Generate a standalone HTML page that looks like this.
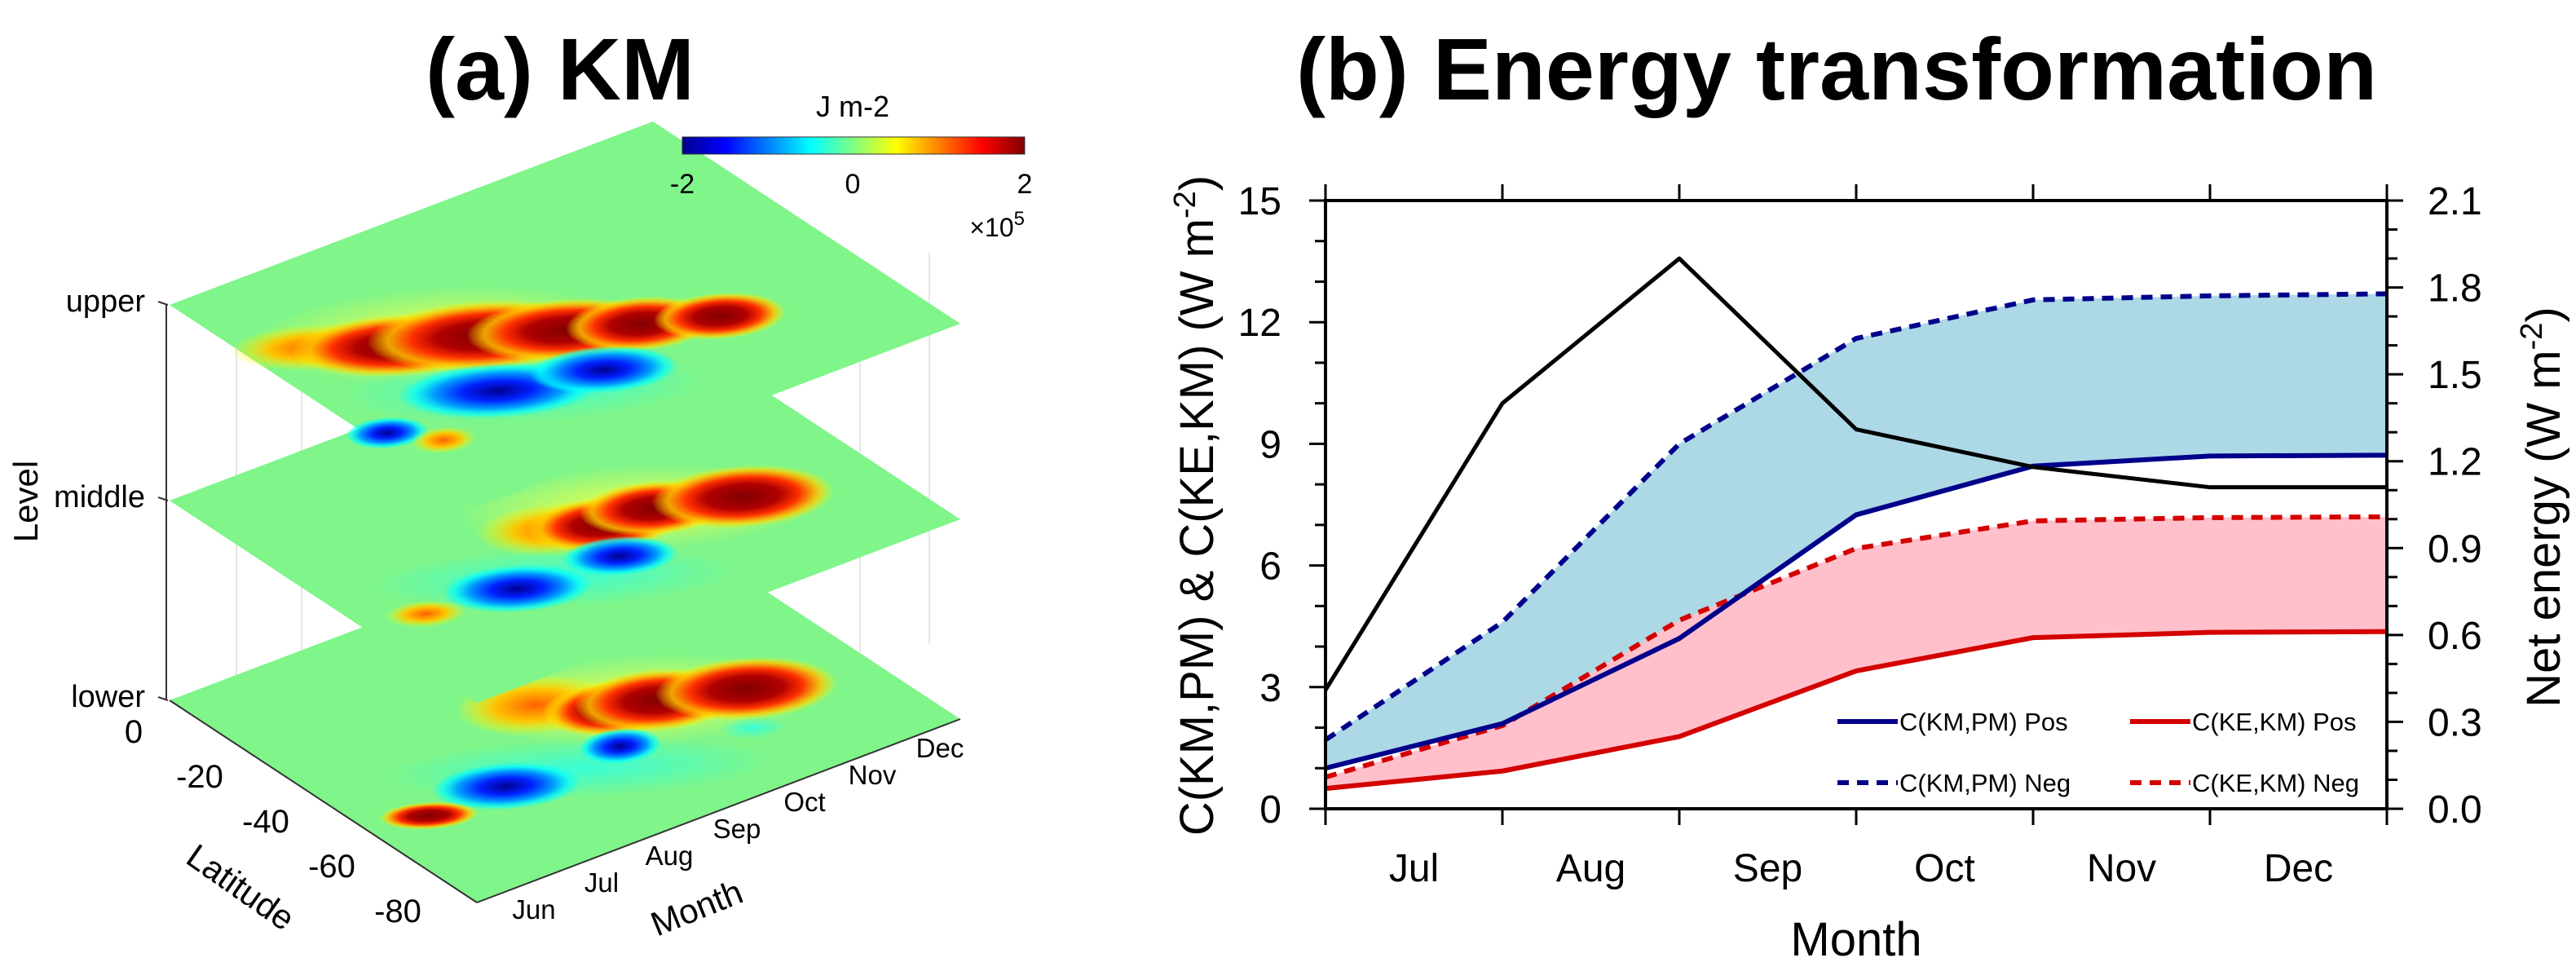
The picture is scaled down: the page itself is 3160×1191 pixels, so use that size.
<!DOCTYPE html>
<html><head><meta charset="utf-8"><style>
html,body{margin:0;padding:0;background:#fff;}
svg{display:block;font-family:"Liberation Sans",Arial,sans-serif;}
</style></head><body>
<svg id="root" width="3160" height="1191" viewBox="0 0 3160 1191" xmlns="http://www.w3.org/2000/svg">
<defs>
<linearGradient id="jet" x1="0" x2="1" y1="0" y2="0">
<stop offset="0" stop-color="#00008f"/><stop offset="0.125" stop-color="#0000ff"/><stop offset="0.375" stop-color="#00ffff"/><stop offset="0.5" stop-color="#80ff80"/><stop offset="0.625" stop-color="#ffff00"/><stop offset="0.875" stop-color="#ff0000"/><stop offset="1" stop-color="#800000"/>
</linearGradient>
<radialGradient id="gRed"><stop offset="0" stop-color="#800000"/><stop offset="0.4" stop-color="#b00000"/><stop offset="0.62" stop-color="#ff3000"/><stop offset="0.82" stop-color="#ffc000" stop-opacity="0.85"/><stop offset="1" stop-color="#ffff00" stop-opacity="0"/></radialGradient>
<radialGradient id="gBlue"><stop offset="0" stop-color="#000090"/><stop offset="0.35" stop-color="#0020ff"/><stop offset="0.65" stop-color="#00a0ff"/><stop offset="0.85" stop-color="#00ffff" stop-opacity="0.7"/><stop offset="1" stop-color="#00ffff" stop-opacity="0"/></radialGradient>
<radialGradient id="gYel"><stop offset="0" stop-color="#ff6000"/><stop offset="0.5" stop-color="#ffc000"/><stop offset="1" stop-color="#ffff00" stop-opacity="0"/></radialGradient>
<radialGradient id="gHaloY"><stop offset="0" stop-color="#ffff40" stop-opacity="0.9"/><stop offset="1" stop-color="#ffff40" stop-opacity="0"/></radialGradient>
<radialGradient id="gHaloC"><stop offset="0" stop-color="#30ffe0" stop-opacity="0.9"/><stop offset="1" stop-color="#30ffe0" stop-opacity="0"/></radialGradient>
</defs>
<text x="687" y="122" text-anchor="middle" font-size="108" font-weight="bold">(a) KM</text>
<text x="2253" y="122" text-anchor="middle" font-size="108" font-weight="bold">(b) Energy transformation</text>
<g id="pa"></g>
<g id="pb"></g>
</svg>
<script>
// ===== Panel (b) data =====
const months = ["Jul","Aug","Sep","Oct","Nov","Dec"];
const kmpmPos = [1.0, 2.1, 4.2, 7.25, 8.45, 8.7, 8.72];
const kmpmNeg = [1.7, 4.6, 9.0, 11.6, 12.55, 12.65, 12.7];
const kekmPos = [0.5, 0.93, 1.78, 3.4, 4.22, 4.35, 4.37];
const kekmNeg = [0.78, 2.05, 4.65, 6.42, 7.1, 7.18, 7.2];
const netEnergy = [0.41, 1.40, 1.90, 1.31, 1.18, 1.11, 1.11];
const leftTicks = ["0","3","6","9","12","15"];
const rightTicks = ["0.0","0.3","0.6","0.9","1.2","1.5","1.8","2.1"];

// ===== Panel (a) data (blobs in plane unit coords: u=month, v=latitude) =====
const upperBlobs = [
 [0.30,0.42,0.34,0.18,"gHaloY"],[0.30,0.68,0.32,0.13,"gHaloC"],
 [0.10,0.30,0.10,0.06,"gYel"],[0.22,0.40,0.13,0.08,"gRed"],[0.35,0.47,0.14,0.09,"gRed"],[0.47,0.55,0.12,0.08,"gRed"],[0.58,0.62,0.09,0.07,"gRed"],[0.70,0.69,0.08,0.06,"gRed"],
 [0.26,0.66,0.12,0.07,"gBlue"],[0.44,0.72,0.09,0.06,"gBlue"],[0.03,0.66,0.05,0.04,"gBlue"],[0.09,0.75,0.04,0.035,"gYel"]];
const middleBlobs = [
 [0.60,0.58,0.32,0.16,"gHaloY"],[0.35,0.70,0.32,0.11,"gHaloC"],
 [0.45,0.55,0.10,0.07,"gYel"],[0.52,0.59,0.09,0.07,"gRed"],[0.62,0.60,0.09,0.07,"gRed"],[0.76,0.67,0.11,0.08,"gRed"],
 [0.28,0.69,0.09,0.06,"gBlue"],[0.48,0.71,0.07,0.05,"gBlue"],[0.11,0.66,0.05,0.035,"gYel"]];
const lowerBlobs = [
 [0.62,0.56,0.32,0.17,"gHaloY"],[0.40,0.70,0.34,0.11,"gHaloC"],
 [0.47,0.45,0.10,0.08,"gYel"],[0.56,0.55,0.08,0.07,"gRed"],[0.64,0.58,0.10,0.08,"gRed"],[0.78,0.65,0.11,0.08,"gRed"],
 [0.27,0.67,0.09,0.06,"gBlue"],[0.50,0.68,0.05,0.045,"gBlue"],[0.71,0.78,0.06,0.04,"gHaloC"],[0.11,0.67,0.06,0.035,"gRed"]];
const levels = ["upper","middle","lower"];
const latLabels = ["0","-20","-40","-60","-80"];
const monLabels3d = ["Jun","Jul","Aug","Sep","Oct","Nov","Dec"];

const NS="http://www.w3.org/2000/svg";
function mk(tag, attrs, parent, txt){const e=document.createElementNS(NS,tag);for(const k in attrs)e.setAttribute(k,attrs[k]);if(txt!==undefined)e.textContent=txt;parent.appendChild(e);return e;}

// ---------- Panel b ----------
const pb=document.getElementById('pb');
const X0=1626,X1=2928,Y0=246,Y1=992;
const xs=i=>X0+(X1-X0)*i/6;
const yL=v=>Y1-(Y1-Y0)*v/15;
const yR=v=>Y1-(Y1-Y0)*v/2.1;
function band(lo,hi,fill,name){
  let d="M"+lo.map((v,i)=>xs(i)+","+yL(v)).join(" L");
  d+=" L"+hi.map((v,i)=>xs(i)+","+yL(v)).reverse().join(" L")+" Z";
  const p=mk('path',{d:d,fill:fill,stroke:'none'},pb);
  
  
}
band(kmpmPos,kmpmNeg,'#add8e6','kmpm-fill');
band(kekmPos,kekmNeg,'#ffc0cb','kekm-fill');
function line(vals,fy,col,w,dash,name){
  const p=mk('polyline',{points:vals.map((v,i)=>xs(i)+","+fy(v)).join(" "),fill:'none',stroke:col,'stroke-width':w,'stroke-dasharray':dash||'none','stroke-linejoin':'round'},pb);
  
  
}
line(kekmPos,yL,'#d40000',6,null,'kekm-pos-line');
line(kekmNeg,yL,'#d40000',6,'14,10','kekm-neg-line');
line(kmpmPos,yL,'#00008b',6,null,'kmpm-pos-line');
line(kmpmNeg,yL,'#00008b',6,'14,10','kmpm-neg-line');
line(netEnergy,yR,'#000',5,null,'net-energy-line');
const frame=mk('rect',{x:X0,y:Y0,width:X1-X0,height:Y1-Y0,fill:'none',stroke:'#000','stroke-width':4},pb);


for(let v=0;v<=15;v++){const y=yL(v);const L=v%3===0?20:13;mk('line',{x1:X0-L,x2:X0,y1:y,y2:y,stroke:'#000','stroke-width':3},pb);}
leftTicks.forEach(t=>{const e=mk('text',{x:1572,y:yL(+t)+17,'text-anchor':'end','font-size':48},pb,t);});
for(let k=0;k<=21;k++){const y=yR(k/10);const L=k%3===0?20:13;mk('line',{x1:X1,x2:X1+L,y1:y,y2:y,stroke:'#000','stroke-width':3},pb);}
rightTicks.forEach(t=>{const e=mk('text',{x:2978,y:yR(+t)+17,'text-anchor':'start','font-size':48},pb,t);});
for(let i=0;i<=6;i++){mk('line',{x1:xs(i),x2:xs(i),y1:Y1,y2:Y1+20,stroke:'#000','stroke-width':3},pb);mk('line',{x1:xs(i),x2:xs(i),y1:Y0-20,y2:Y0,stroke:'#000','stroke-width':3},pb);}
months.forEach((m,i)=>{const e=mk('text',{x:(xs(i)+xs(i+1))/2,y:1081,'text-anchor':'middle','font-size':48},pb,m);});
let t=mk('text',{x:2277,y:1172,'text-anchor':'middle','font-size':58},pb,'Month');
t=mk('text',{transform:'translate(1488,620) rotate(-90)','text-anchor':'middle','font-size':58},pb);
t.innerHTML='C(KM,PM) &amp; C(KE,KM) (W m<tspan dy="-22" font-size="38">-2</tspan><tspan dy="22">)</tspan>';

t=mk('text',{transform:'translate(3140,622) rotate(-90)','text-anchor':'middle','font-size':58},pb);
t.innerHTML='Net energy (W m<tspan dy="-22" font-size="38">-2</tspan><tspan dy="22">)</tspan>';

const leg=[[2254,885,'#00008b',null,'C(KM,PM) Pos'],[2613,885,'#d40000',null,'C(KE,KM) Pos'],[2254,960,'#00008b','14,10','C(KM,PM) Neg'],[2613,960,'#d40000','14,10','C(KE,KM) Neg']];
leg.forEach(l=>{const g=mk('g',{},pb);
mk('line',{x1:l[0],x2:l[0]+74,y1:l[1],y2:l[1],stroke:l[2],'stroke-width':6,'stroke-dasharray':l[3]||'none'},g);
mk('text',{x:l[0]+76,y:l[1]+11,'font-size':31},g,l[4]);});

// ---------- Panel a ----------
const pa=document.getElementById('pa');
const sizeScale={gRed:1.45,gBlue:1.45,gYel:1.4,gHaloY:1,gHaloC:1};
[[290,360],[370,330],[455,300],[540,265],[625,235],[710,205],[1055,320],[1140,290]].forEach(p=>{mk('line',{x1:p[0],x2:p[0],y1:p[1]+20,y2:p[1]+500,stroke:'#ddd','stroke-width':1.5},pa);});
mk('line',{x1:204,x2:204,y1:374,y2:859,stroke:'#333','stroke-width':2},pa);
const origins=[374,614,859];
const blobSets=[upperBlobs,middleBlobs,lowerBlobs];
[2,1,0].forEach(k=>{
  const g=mk('g',{transform:`matrix(593,-225,377,248,208,${origins[k]})`},pa);
  
  
  mk('polygon',{points:'0,0 1,0 1,1 0,1',fill:'#7ff58a'},g);
  const inner=mk('g',{'clip-path':'none'},g);
  blobSets[k].forEach(b=>{const s=sizeScale[b[4]];const e=mk('ellipse',{cx:b[0],cy:b[1],rx:b[2]*s,ry:b[3]*s,fill:`url(#${b[4]})`,transform:`rotate(38 ${b[0]} ${b[1]})`},inner);});
});
levels.forEach((l,k)=>{mk('line',{x1:194,x2:206,y1:origins[k]-4,y2:origins[k],stroke:'#333','stroke-width':2},pa);const e=mk('text',{x:178,y:origins[k]+8,'text-anchor':'end','font-size':38},pa,l);});
t=mk('text',{transform:'translate(46,615) rotate(-90)','text-anchor':'middle','font-size':42},pa,'Level');
mk('line',{x1:208,y1:859,x2:585,y2:1107,stroke:'#333','stroke-width':2},pa);
mk('line',{x1:585,y1:1107,x2:1178,y2:882,stroke:'#333','stroke-width':2},pa);
latLabels.forEach((l,i)=>{const e=mk('text',{x:164+i*81,y:911+i*55,'text-anchor':'middle','font-size':40},pa,l);});
monLabels3d.forEach((l,i)=>{const e=mk('text',{x:655+i*83,y:1127-i*33,'text-anchor':'middle','font-size':33},pa,l);});
t=mk('text',{transform:'translate(287,1100) rotate(35)','text-anchor':'middle','font-size':42},pa,'Latitude');
t=mk('text',{transform:'translate(860,1127) rotate(-22)','text-anchor':'middle','font-size':42},pa,'Month');
let cb=mk('rect',{x:837,y:168,width:420,height:21,fill:'url(#jet)',stroke:'#333','stroke-width':1},pa);
[["-2",837],["0",1046],["2",1257]].forEach(c=>{const e=mk('text',{x:c[1],y:237,'text-anchor':'middle','font-size':34},pa,c[0]);});
t=mk('text',{x:1046,y:143,'text-anchor':'middle','font-size':36},pa,'J m-2');
t=mk('text',{x:1257,y:290,'text-anchor':'end','font-size':32},pa);t.innerHTML='×10<tspan dy="-14" font-size="24">5</tspan>';
</script>
</body></html>
